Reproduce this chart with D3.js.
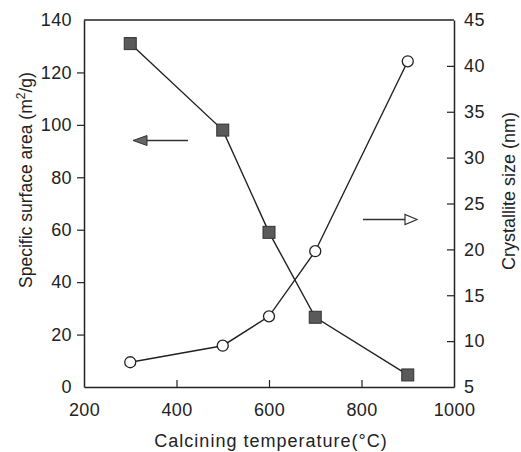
<!DOCTYPE html>
<html>
<head>
<meta charset="utf-8">
<script src="https://cdn.jsdelivr.net/npm/d3@7"></script>
<style>
  body { margin: 0; background: #fff; }
  text { font-family: "Liberation Sans", Arial, sans-serif; fill: #222; }
</style>
</head>
<body>
<script>
// calcining temperature (C)
var temps = [300, 500, 600, 700, 900];
// specific surface area, m2/g (left axis, filled squares)
var surfaceArea = [131, 98, 59, 26.6, 4.6];
// crystallite size, nm (right axis, open circles)
var crystalSize = [7.7, 9.5, 12.7, 19.8, 40.5];

var xTicks = [200, 400, 600, 800, 1000];
var leftTicks = [0, 20, 40, 60, 80, 100, 120, 140];
var rightTicks = [5, 10, 15, 20, 25, 30, 35, 40, 45];

var width = 521, height = 452;
var m = {left: 84, right: 67, top: 20, bottom: 65};

var svg = d3.select('body').append('svg')
  .attr('width', width).attr('height', height);

var x = d3.scaleLinear().domain([200, 1000]).range([m.left, width - m.right]);
var yL = d3.scaleLinear().domain([0, 140]).range([height - m.bottom, m.top]);
var yR = d3.scaleLinear().domain([5, 45]).range([height - m.bottom, m.top]);

var fontSize = 18;

// x axis, ticks point inward
var gx = svg.append('g')
  .attr('transform', 'translate(0,' + (height - m.bottom) + ')')
  .call(d3.axisBottom(x).tickValues(xTicks).tickFormat(d3.format('d'))
    .tickSizeInner(-7).tickSizeOuter(0).tickPadding(16));
gx.selectAll('.tick line').filter(function(d){ return d == 200 || d == 1000; }).remove();

var gl = svg.append('g')
  .attr('transform', 'translate(' + m.left + ',0)')
  .call(d3.axisLeft(yL).tickValues(leftTicks).tickSizeInner(7).tickSizeOuter(0).tickPadding(5));
gl.selectAll('.tick line').filter(function(d){ return d == 0 || d == 140; }).remove();

var gr = svg.append('g')
  .attr('transform', 'translate(' + (width - m.right) + ',0)')
  .call(d3.axisRight(yR).tickValues(rightTicks).tickSizeInner(-7).tickSizeOuter(0).tickPadding(10));
gr.selectAll('.tick line').filter(function(d){ return d == 5 || d == 45; }).remove();

// top frame line
svg.append('line')
  .attr('x1', m.left).attr('x2', width - m.right)
  .attr('y1', m.top).attr('y2', m.top)
  .attr('stroke', '#222').attr('stroke-width', 1.5);

svg.selectAll('.domain').attr('stroke', '#222').attr('stroke-width', 1.5);
svg.selectAll('.tick line').attr('stroke', '#222').attr('stroke-width', 1.2);
svg.selectAll('.tick text')
  .style('font-size', fontSize + 'px')
  .style('font-family', '"Liberation Sans", Arial, sans-serif')
  .style('letter-spacing', '0.4px')
  .attr('fill', '#222');

// axis titles
svg.append('text')
  .attr('x', (m.left + width - m.right) / 2 + 2)
  .attr('y', 447)
  .attr('text-anchor', 'middle')
  .style('font-size', fontSize + 'px')
  .style('letter-spacing', '1px')
  .text('Calcining temperature(°C)');

svg.append('text')
  .attr('transform', 'translate(32,180) rotate(-90)')
  .attr('text-anchor', 'middle')
  .style('font-size', '17.5px')
  .html('Specific surface area (m<tspan dy="-7" font-size="12">2</tspan><tspan dy="7">/g)</tspan>');

svg.append('text')
  .attr('transform', 'translate(515,191) rotate(-90)')
  .attr('text-anchor', 'middle')
  .style('font-size', fontSize + 'px')
  .text('Crystallite size (nm)');

// series lines
var pts = temps.map(function(t, i){ return {t: t, a: surfaceArea[i], c: crystalSize[i]}; });

var lineA = d3.line().x(function(d){ return x(d.t); }).y(function(d){ return yL(d.a); });
var lineC = d3.line().x(function(d){ return x(d.t); }).y(function(d){ return yR(d.c); });

svg.append('path').datum(pts).attr('d', lineA)
  .attr('fill', 'none').attr('stroke', '#222').attr('stroke-width', 1.4);
svg.append('path').datum(pts).attr('d', lineC)
  .attr('fill', 'none').attr('stroke', '#222').attr('stroke-width', 1.4);

var sq = 12;
svg.selectAll('rect.sq').data(pts).enter().append('rect')
  .attr('class', 'sq')
  .attr('x', function(d){ return x(d.t) - sq / 2; })
  .attr('y', function(d){ return yL(d.a) - sq / 2; })
  .attr('width', sq).attr('height', sq)
  .attr('fill', '#5a5a5a').attr('stroke', '#333').attr('stroke-width', 1);

svg.selectAll('circle.ci').data(pts).enter().append('circle')
  .attr('class', 'ci')
  .attr('cx', function(d){ return x(d.t); })
  .attr('cy', function(d){ return yR(d.c); })
  .attr('r', 5.5)
  .attr('fill', '#fff').attr('stroke', '#222').attr('stroke-width', 1.3);

// arrows pointing to the axis each series belongs to
// left arrow (filled head) for surface area
var ax1 = 188, ax2 = 133, ay = 140.5;
svg.append('line').attr('x1', ax1).attr('x2', ax2 + 12).attr('y1', ay).attr('y2', ay)
  .attr('stroke', '#333').attr('stroke-width', 1.5);
svg.append('path')
  .attr('d', 'M' + ax2 + ',' + ay + 'L' + (ax2 + 14) + ',' + (ay - 5) + 'L' + (ax2 + 14) + ',' + (ay + 5) + 'Z')
  .attr('fill', '#666').attr('stroke', '#333').attr('stroke-width', 1);

// right arrow (open head) for crystallite size
var bx1 = 363, bx2 = 417, by = 219.5;
svg.append('line').attr('x1', bx1).attr('x2', bx2 - 12).attr('y1', by).attr('y2', by)
  .attr('stroke', '#333').attr('stroke-width', 1.5);
svg.append('path')
  .attr('d', 'M' + bx2 + ',' + by + 'L' + (bx2 - 12) + ',' + (by - 5) + 'L' + (bx2 - 12) + ',' + (by + 5) + 'Z')
  .attr('fill', '#fff').attr('stroke', '#333').attr('stroke-width', 1.2);
</script>
</body>
</html>
